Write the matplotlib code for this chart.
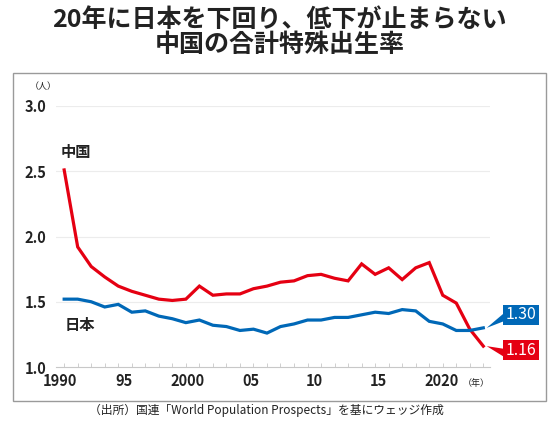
import matplotlib
matplotlib.use("Agg")
import matplotlib.pyplot as plt
from matplotlib.patches import Rectangle, Polygon

plt.rcParams['font.family'] = ['Noto Sans CJK JP', 'DejaVu Sans']

# データ（国連 World Population Prospects から読み取り）
years = list(range(1990, 2022))
china = [2.51, 1.92, 1.77, 1.69, 1.62, 1.58, 1.55, 1.52, 1.51, 1.52,
         1.62, 1.55, 1.56, 1.56, 1.60, 1.62, 1.65, 1.66, 1.70, 1.71,
         1.68, 1.66, 1.79, 1.71, 1.76, 1.67, 1.76, 1.80, 1.55, 1.49,
         1.29, 1.16]
japan = [1.52, 1.52, 1.50, 1.46, 1.48, 1.42, 1.43, 1.39, 1.37, 1.34,
         1.36, 1.32, 1.31, 1.28, 1.29, 1.26, 1.31, 1.33, 1.36, 1.36,
         1.38, 1.38, 1.40, 1.42, 1.41, 1.44, 1.43, 1.35, 1.33, 1.28,
         1.28, 1.30]
x_labels = ["1990", "95", "2000", "05", "10", "15", "2020"]
y_ticks = [1.0, 1.5, 2.0, 2.5, 3.0]

RED = "#e50012"
BLUE = "#0068b7"
DARK = "#222222"

fig = plt.figure(figsize=(5.55, 4.24), dpi=100)
ax = fig.add_axes([0.101, 0.1344, 0.782, 0.6156])

# 枠
fig.patches.append(Rectangle((0.0234, 0.0542), 0.9604, 0.7736, transform=fig.transFigure,
                             fill=False, edgecolor="#9a9a9a", linewidth=1.0))

ax.plot(years, china, color=RED, linewidth=2.3, solid_joinstyle="miter", zorder=3)
ax.plot(years, japan, color=BLUE, linewidth=2.3, solid_joinstyle="miter", zorder=3)

ax.set_xlim(1989.4, 2021.5)
ax.set_ylim(1.0, 3.0)
for s in ["top", "right", "left"]:
    ax.spines[s].set_visible(False)
ax.spines["bottom"].set_color("#c8c8c8")
ax.spines["bottom"].set_linewidth(0.8)

for v in y_ticks[1:]:
    ax.axhline(v, color="#ececec", linewidth=0.8, zorder=1)

ax.set_yticks(y_ticks)
ax.set_yticklabels([f"{v:.1f}" for v in y_ticks], fontsize=10.5, fontweight="bold", color=DARK)
ax.tick_params(axis="y", length=0, pad=7)

# 目盛りは毎年、ラベルは元図の位置に合わせる
ax.set_xticks(years, minor=True)
ax.tick_params(axis="x", which="minor", length=3, direction="in", color="#c8c8c8", width=0.6)
label_pos = [1989.7, 1994.45, 1999.1, 2003.85, 2008.5, 2013.25, 2017.95]
ax.set_xticks(label_pos)
ax.set_xticklabels(x_labels, fontsize=10.5, fontweight="bold", color=DARK)
ax.tick_params(axis="x", which="major", length=0, pad=4)

ax.text(-0.06, 1.075, "（人）", transform=ax.transAxes, fontsize=6.5, color=DARK,
        ha="left", va="center")
ax.text(2019.45, 0.877, "（年）", fontsize=6.5, color=DARK, ha="left", va="center",
        clip_on=False)

ax.text(1989.75, 2.65, "中国", fontsize=11, fontweight="bold", color=DARK, ha="left", va="center")
ax.text(1990.05, 1.32, "日本", fontsize=11, fontweight="bold", color=DARK, ha="left", va="center")

# 末尾の値ラベル
def end_label(yv, ybox, text, color):
    bx0, bx1 = 2022.45, 2025.1
    ax.add_patch(Rectangle((bx0, ybox - 0.077), bx1 - bx0, 0.154, facecolor=color,
                           edgecolor="none", clip_on=False, zorder=4))
    ax.add_patch(Polygon([[years[-1] + 0.25, yv], [bx0 + 0.05, ybox + 0.01], [bx0 + 0.05, ybox - 0.05]],
                         closed=True, facecolor=color, edgecolor="none", clip_on=False, zorder=4))
    ax.text((bx0 + bx1) / 2, ybox, text, fontsize=11.5, color="white", ha="center", va="center",
            zorder=5, clip_on=False)

end_label(china[-1], 1.13, f"{china[-1]:.2f}", RED)
end_label(japan[-1], 1.40, f"{japan[-1]:.2f}", BLUE)

fig.text(0.504, 0.953, "20年に日本を下回り、低下が止まらない", fontsize=18, fontweight="bold",
         color=DARK, ha="center", va="center")
fig.text(0.504, 0.894, "中国の合計特殊出生率", fontsize=18, fontweight="bold",
         color=DARK, ha="center", va="center")
fig.text(0.48, 0.031, "（出所）国連「World Population Prospects」を基にウェッジ作成",
         fontsize=8.5, color=DARK, ha="center", va="center")

fig.savefig("out.png", dpi=100, facecolor="white")
